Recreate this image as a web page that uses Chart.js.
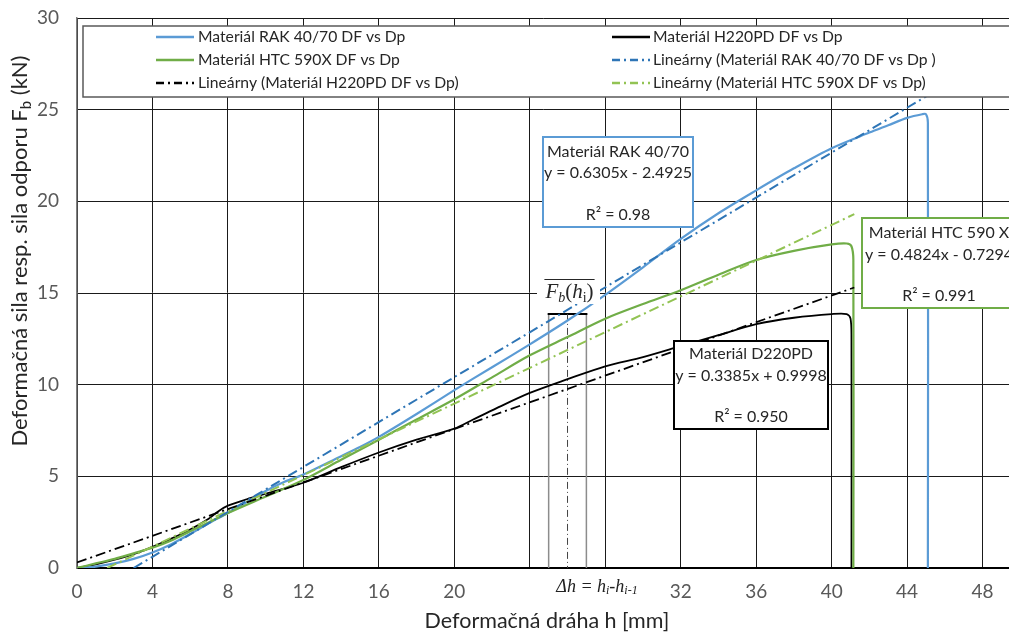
<!DOCTYPE html>
<html><head><meta charset="utf-8">
<script src="https://cdn.jsdelivr.net/npm/chart.js@4.4.1/dist/chart.umd.min.js"></script>
<style>html,body{margin:0;padding:0;background:#fff;overflow:hidden}canvas{display:block}</style>
</head><body><canvas id="c" width="1009" height="634"></canvas>
<script>
// ---- data ----
const rakH = [0,1,2,3,4,5,6,7,8,9,10,11,12,14,15,16,18,20,22,24,26,28,30,32,34,36,38,40,42,43,44,44.8,45.0,45.1,45.1];
const rakF = [0,0.08,0.25,0.5,0.85,1.3,1.85,2.45,3.0,3.6,4.2,4.7,5.1,6.1,6.6,7.15,8.4,9.7,10.95,12.2,13.5,14.9,16.4,17.95,19.35,20.6,21.8,22.9,23.75,24.15,24.55,24.75,24.75,24.3,0];

const h220H = [0,1,2,3,4,5,6,7,7.5,8,9,10,12,14,16,18,20,21,22,24,26,28,30,32,34,36,38,40,40.8,41.0,41.05,41.05];
const h220F = [0,0.2,0.45,0.75,1.15,1.6,2.1,2.7,3.1,3.4,3.75,4.05,4.65,5.5,6.3,7.0,7.6,8.1,8.6,9.55,10.3,11.0,11.5,12.1,12.7,13.3,13.65,13.85,13.85,13.6,12.6,0];

const htcH = [0,1,2,3,4,5,6,7,8,10,12,14,16,18,20,22,24,26,28,30,32,34,36,38,40,40.8,41.05,41.15,41.15];
const htcF = [0,0.25,0.5,0.8,1.1,1.5,2.0,2.5,3.0,3.9,4.8,5.9,7.0,8.1,9.2,10.4,11.6,12.6,13.6,14.4,15.15,16.0,16.8,17.3,17.65,17.7,17.55,16.8,0];

const rakTrendH = [3.0, 45.05];
const rakTrendF = [0, 25.75];
const h220TrendH = [0, 41.2];
const h220TrendF = [0.3, 15.3];
const htcTrendH = [1.6, 41.2];
const htcTrendF = [0, 19.3];

const seriesLabels = [
  'Materiál RAK 40/70 DF vs Dp',
  'Materiál H220PD DF vs Dp',
  'Materiál HTC 590X DF vs Dp',
  'Lineárny (Materiál RAK 40/70 DF vs Dp )',
  'Lineárny (Materiál H220PD DF vs Dp)',
  'Lineárny (Materiál HTC 590X DF vs Dp)'
];

const xTicks = [0,4,8,12,16,20,24,28,32,36,40,44,48];
const xTickLabels = ['0','4','8','12','16','20','','','32','36','40','44','48'];
const yTicks = [0,5,10,15,20,25,30];
const yTickLabels = ['0','5','10','15','20','25','30'];

const rakBoxLines = ['Materiál RAK 40/70','y = 0.6305x - 2.4925','','R² = 0.98'];
const htcBoxLines = ['Materiál HTC 590 X','y = 0.4824x - 0.7294','','R² = 0.991'];
const h220BoxLines = ['Materiál D220PD','y = 0.3385x + 0.9998','','R² = 0.950'];

// Δh construction (data coordinates)
const rectH = [25.0, 27.0];
const rectMidH = 26.0;
const rectTopF = 13.86;

// ---- styling ----
const SANS = 'Lato, "Open Sans", sans-serif';
const SERIF = '"Liberation Serif", "DejaVu Serif", serif';
const C_BLUE = '#5b9bd5', C_BLUE_T = '#2e75b6';
const C_GREEN = '#70ad47', C_GREEN_T = '#92c353';
const C_BLACK = '#000000';
const DASHDOT = [10,4,2,4];

const pts = (xs, ys) => xs.map((v,i)=>({x:v, y:ys[i]}));

const datasets = [
  {label: seriesLabels[0], data: pts(rakH, rakF), borderColor: C_BLUE, borderWidth: 2.2, order: 3, tension: 0.3},
  {label: seriesLabels[1], data: pts(h220H, h220F), borderColor: C_BLACK, borderWidth: 1.8, order: 4, tension: 0.3},
  {label: seriesLabels[2], data: pts(htcH, htcF), borderColor: C_GREEN, borderWidth: 2.2, order: 2, tension: 0.3},
  {label: seriesLabels[3], data: pts(rakTrendH, rakTrendF), borderColor: C_BLUE_T, borderWidth: 2, borderDash: DASHDOT, order: 1},
  {label: seriesLabels[4], data: pts(h220TrendH, h220TrendF), borderColor: C_BLACK, borderWidth: 1.8, borderDash: DASHDOT, order: 1},
  {label: seriesLabels[5], data: pts(htcTrendH, htcTrendF), borderColor: C_GREEN_T, borderWidth: 2, borderDash: DASHDOT, order: 1}
].map(d => Object.assign({showLine: true, pointRadius: 0, fill: false, tension: 0}, d));

function drawBox(ctx, x0, y0, x1, y1, color, lines, ys, cx) {
  ctx.save();
  ctx.fillStyle = '#fff';
  ctx.fillRect(x0, y0, x1 - x0, y1 - y0);
  ctx.strokeStyle = color; ctx.lineWidth = 2; ctx.setLineDash([]);
  ctx.strokeRect(x0, y0, x1 - x0, y1 - y0);
  ctx.fillStyle = '#262626';
  ctx.font = '16px ' + SANS;
  ctx.textAlign = 'center'; ctx.textBaseline = 'middle';
  lines.forEach((t, i) => { if (t) ctx.fillText(t, cx, ys[i]); });
  ctx.restore();
}

function drawRuns(ctx, runs, x, y) {
  let cx = x;
  runs.forEach(r => {
    ctx.font = r[1];
    ctx.fillText(r[0], cx, y + (r[2] || 0));
    cx += ctx.measureText(r[0]).width;
  });
  return cx - x;
}
function measureRuns(ctx, runs) {
  let w = 0;
  runs.forEach(r => { ctx.font = r[1]; w += ctx.measureText(r[0]).width; });
  return w;
}

const decor = {
  id: 'decor',
  beforeDatasetsDraw(chart) {
    const {ctx, scales: {x, y}} = chart;
    ctx.save();
    const yb = y.getPixelForValue(0), yt = y.getPixelForValue(rectTopF);
    const xl = x.getPixelForValue(rectH[0]), xr = x.getPixelForValue(rectH[1]), xm = x.getPixelForValue(rectMidH);
    ctx.strokeStyle = '#8c8c8c'; ctx.lineWidth = 1.5;
    ctx.beginPath(); ctx.moveTo(xl, yb); ctx.lineTo(xl, yt); ctx.moveTo(xr, yb); ctx.lineTo(xr, yt); ctx.stroke();
    ctx.strokeStyle = '#000'; ctx.lineWidth = 2;
    ctx.beginPath(); ctx.moveTo(xl - 1, yt); ctx.lineTo(xr + 1, yt); ctx.stroke();
    ctx.strokeStyle = '#444'; ctx.lineWidth = 1; ctx.setLineDash([7,3,1,3]);
    ctx.beginPath(); ctx.moveTo(xm, yt); ctx.lineTo(xm, yb); ctx.stroke();
    ctx.restore();
  },
  afterDatasetsDraw(chart) {
    const {ctx} = chart;
    // legend
    ctx.save();
    ctx.fillStyle = '#fff';
    ctx.fillRect(83, 26, 1009 - 83 + 5, 71);
    ctx.strokeStyle = '#595959'; ctx.lineWidth = 1.5;
    ctx.strokeRect(83, 26, 1009 - 83 + 5, 71);
    const rowsY = [37, 60, 83];
    const cols = [{x0: 156, x1: 194, tx: 198}, {x0: 612, x1: 650, tx: 653}];
    ctx.font = '15.7px ' + SANS;
    ctx.textBaseline = 'middle'; ctx.textAlign = 'left';
    chart.data.datasets.forEach((ds, i) => {
      const r = Math.floor(i / 2), c = cols[i % 2], yy = rowsY[r];
      ctx.strokeStyle = ds.borderColor; ctx.lineWidth = 2.5;
      ctx.setLineDash(ds.borderDash ? [8,4,2,4] : []);
      ctx.beginPath(); ctx.moveTo(c.x0, yy); ctx.lineTo(c.x1, yy); ctx.stroke();
      ctx.setLineDash([]);
      ctx.fillStyle = '#262626';
      ctx.fillText(ds.label, c.tx, yy);
    });
    ctx.restore();

    // equation boxes
    drawBox(ctx, 543, 137, 693, 227, C_BLUE, rakBoxLines, [152, 173, 194, 215], 618);
    drawBox(ctx, 862, 218, 1016, 308, C_GREEN, htcBoxLines, [233, 255, 276, 296], 939);
    drawBox(ctx, 674, 341, 828, 429, '#000', h220BoxLines, [354, 376, 397, 417], 751);

    // F_b(h_i) label
    ctx.save();
    ctx.fillStyle = '#fff';
    ctx.fillRect(537, 274, 63, 30);
    ctx.fillStyle = '#262626';
    ctx.textBaseline = 'alphabetic'; ctx.textAlign = 'left';
    const fRuns = [
      ['F', 'italic 21px ' + SERIF, 0],
      ['b', 'italic 14px ' + SERIF, 4],
      ['(', '21px ' + SERIF, 0],
      ['h', 'italic 21px ' + SERIF, 0],
      ['i', '14px ' + SERIF, 4],
      [')', '21px ' + SERIF, 0]
    ];
    const fw = measureRuns(ctx, fRuns);
    const fx = 569.5 - fw / 2;
    drawRuns(ctx, fRuns, fx, 298);
    ctx.strokeStyle = '#262626'; ctx.lineWidth = 1;
    ctx.beginPath(); ctx.moveTo(fx - 1, 279.5); ctx.lineTo(fx + fw + 1, 279.5); ctx.stroke();
    ctx.restore();
  },
  afterDraw(chart) {
    const {ctx, scales: {y}} = chart;
    ctx.save();
    // y tick labels
    ctx.fillStyle = '#595959';
    ctx.font = '19px ' + SANS;
    ctx.textAlign = 'right'; ctx.textBaseline = 'middle';
    yTicks.forEach((v, i) => ctx.fillText(yTickLabels[i], 59, y.getPixelForValue(v)));

    ctx.fillStyle = '#262626';
    ctx.textBaseline = 'alphabetic'; ctx.textAlign = 'left';
    // x title
    ctx.font = '21.5px ' + SANS;
    const xt = 'Deformačná dráha h [mm]';
    ctx.fillText(xt, 547 - ctx.measureText(xt).width / 2, 628);
    // y title with subscript
    ctx.translate(27, 251);
    ctx.rotate(-Math.PI / 2);
    const yRuns = [
      ['Deformačná sila resp. sila odporu F', '22px ' + SANS, 0],
      ['b', '15px ' + SANS, 4],
      [' (kN)', '22px ' + SANS, 0]
    ];
    const yw = measureRuns(ctx, yRuns);
    drawRuns(ctx, yRuns, -yw / 2, 0);
    ctx.restore();

    // Δh label
    ctx.save();
    ctx.fillStyle = '#222';
    ctx.textBaseline = 'alphabetic'; ctx.textAlign = 'left';
    const dRuns = [
      ['Δh = h', 'italic 18px ' + SERIF, 0],
      ['i', 'italic 12px ' + SERIF, 2],
      ['-h', 'italic 18px ' + SERIF, 0],
      ['i-1', 'italic 12px ' + SERIF, 2]
    ];
    const dw = measureRuns(ctx, dRuns);
    drawRuns(ctx, dRuns, 597 - dw / 2, 592);
    ctx.restore();
  }
};

new Chart(document.getElementById('c'), {
  type: 'scatter',
  data: {datasets},
  options: {
    responsive: false,
    devicePixelRatio: 1,
    animation: false,
    layout: {padding: {top: 18, right: 0, left: 0, bottom: 0}},
    plugins: {legend: {display: false}, tooltip: {enabled: false}},
    scales: {
      x: {
        type: 'linear', min: 0, max: 49.4,
        afterBuildTicks: s => { s.ticks = xTicks.map(v => ({value: v})); },
        afterFit: s => { s.height = 66; },
        ticks: {
          autoSkip: false, maxRotation: 0, padding: 12,
          color: '#595959', font: {family: SANS, size: 19},
          callback: v => { const i = xTicks.indexOf(v); return i >= 0 ? xTickLabels[i] : ''; }
        },
        grid: {color: '#1a1a1a', lineWidth: 1, drawTicks: false},
        border: {color: '#000', width: 2}
      },
      y: {
        type: 'linear', min: 0, max: 30,
        afterBuildTicks: s => { s.ticks = yTicks.map(v => ({value: v})); },
        afterFit: s => { s.width = 77; },
        ticks: {display: false},
        grid: {color: '#1a1a1a', lineWidth: 1, drawTicks: false},
        border: {color: '#7f7f7f', width: 1.5}
      }
    }
  },
  plugins: [decor]
});
</script>
</body></html>
